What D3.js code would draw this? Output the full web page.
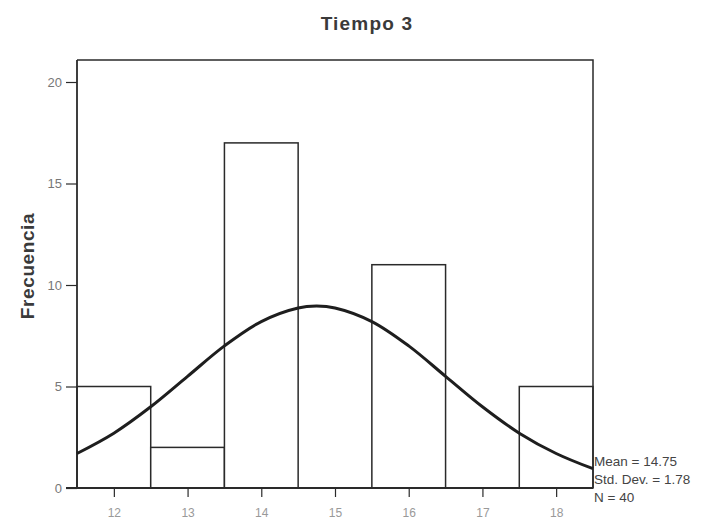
<!DOCTYPE html>
<html lang="es">
<head>
  <meta charset="UTF-8">
  <title>Tiempo 3</title>
  <script src="https://d3js.org/d3.v7.min.js"></script>
  <style>
    body { margin: 0; background: #fff; font-family: Arial, "Liberation Sans", sans-serif; }
    svg { display: block; }
  </style>
</head>
<body>
  <svg id="chart" width="722" height="520"></svg>

<script>
  // histogram bins (class value) and their counts
  const bins = [12, 13, 14, 15, 16, 17, 18];
  const counts = [5, 2, 17, 0, 11, 0, 5];
  const yTicks = [0, 5, 10, 15, 20];

  // fitted normal curve
  const curveX = [11.5, 12, 12.5, 13, 13.5, 14, 14.5, 14.75, 15, 15.5, 16, 16.5, 17, 17.5, 18, 18.5];
  const curveY = [1.7, 2.7, 4.0, 5.5, 7.0, 8.2, 8.87, 8.96, 8.87, 8.2, 7.0, 5.5, 4.0, 2.7, 1.7, 0.95];

  const stats = ["Mean = 14.75", "Std. Dev. = 1.78", "N = 40"];

  const svg = d3.select("#chart");
  const margin = { top: 60, right: 129, bottom: 32, left: 77 };
  const width = 722, height = 520;

  const x = d3.scaleLinear()
    .domain([11.5, 18.5])
    .range([margin.left, width - margin.right]);

  const y = d3.scaleLinear()
    .domain([0, 20])
    .range([488, 82]);

  const ink = "#2a2a2a";

  // title
  svg.append("text")
    .attr("x", 367)
    .attr("y", 30)
    .attr("text-anchor", "middle")
    .attr("font-size", 19)
    .attr("font-weight", 600)
    .attr("fill", "#3a3a3a")
    .attr("letter-spacing", 1.2)
    .text("Tiempo 3");

  // bars
  svg.selectAll(".bar")
    .data(bins.map((b, i) => ({ b, c: counts[i] })).filter(d => d.c > 0))
    .enter()
    .append("rect")
    .attr("class", "bar")
    .attr("x", d => x(d.b - 0.5))
    .attr("y", d => y(d.c))
    .attr("width", d => x(d.b + 0.5) - x(d.b - 0.5))
    .attr("height", d => y(0) - y(d.c))
    .attr("fill", "#fff")
    .attr("stroke", ink)
    .attr("stroke-width", 1.5);

  // frame (top and right)
  svg.append("path")
    .attr("d", `M${x(11.5)},${margin.top}H${x(18.5)}V${y(0)}`)
    .attr("fill", "none")
    .attr("stroke", ink)
    .attr("stroke-width", 1.5);

  // y axis
  const yAxis = d3.axisLeft(y)
    .tickValues(yTicks)
    .tickSize(11)
    .tickPadding(4)
    .tickFormat(d3.format("d"));

  const gy = svg.append("g")
    .attr("transform", `translate(${x(11.5)},0)`)
    .call(yAxis);
  gy.select(".domain")
    .attr("d", `M0,${margin.top}V${y(0)}`)
    .attr("stroke", ink)
    .attr("stroke-width", 1.8);
  gy.selectAll(".tick line").attr("stroke", ink).attr("stroke-width", 1.2);
  gy.selectAll(".tick text")
    .attr("font-size", 13)
    .attr("font-family", "Arial, sans-serif")
    .attr("fill", "#777");

  // x axis
  const xAxis = d3.axisBottom(x)
    .tickValues(bins)
    .tickSize(9)
    .tickPadding(11)
    .tickFormat(d3.format("d"));

  const gx = svg.append("g")
    .attr("transform", `translate(0,${y(0)})`)
    .call(xAxis);
  gx.select(".domain")
    .attr("d", `M${x(11.5) - 11},0H${x(18.5)}`)
    .attr("stroke", ink)
    .attr("stroke-width", 1.8);
  gx.selectAll(".tick line").attr("stroke", ink).attr("stroke-width", 1.2);
  gx.selectAll(".tick text")
    .attr("font-size", 12)
    .attr("font-family", "Arial, sans-serif")
    .attr("fill", "#999");

  // y axis title
  svg.append("text")
    .attr("transform", `translate(34,${(y(0) + margin.top) / 2 - 8}) rotate(-90)`)
    .attr("text-anchor", "middle")
    .attr("font-size", 19)
    .attr("font-weight", 600)
    .attr("fill", "#3a3a3a")
    .attr("letter-spacing", 0.6)
    .text("Frecuencia");

  // normal curve
  const line = d3.line()
    .x(d => x(d[0]))
    .y(d => y(d[1]))
    .curve(d3.curveCatmullRom);

  svg.append("path")
    .datum(curveX.map((v, i) => [v, curveY[i]]))
    .attr("d", line)
    .attr("fill", "none")
    .attr("stroke", "#1e1e1e")
    .attr("stroke-width", 3);

  // summary statistics
  svg.append("g")
    .selectAll("text")
    .data(stats)
    .enter()
    .append("text")
    .attr("x", x(18.5) + 1)
    .attr("y", (d, i) => 466 + i * 18)
    .attr("font-size", 13.5)
    .attr("font-family", "Arial, sans-serif")
    .attr("fill", "#444")
    .text(d => d);
</script>
</body>
</html>
